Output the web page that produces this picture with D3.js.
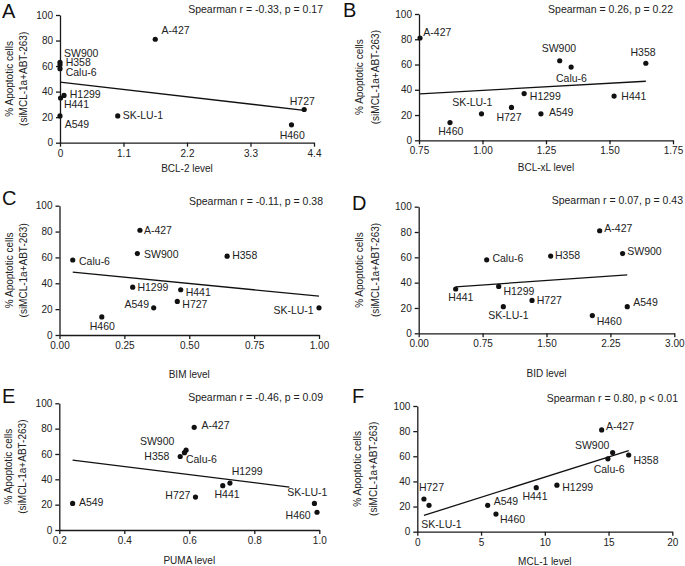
<!DOCTYPE html>
<html>
<head>
<meta charset="utf-8">
<script src="https://cdnjs.cloudflare.com/ajax/libs/d3/7.8.5/d3.min.js"></script>
<style>
  body { margin: 0; background: #fff; }
  svg { display: block; font-family: "Liberation Sans", Arial, sans-serif; }
  .axis path, .axis line { stroke: #1a1a1a; stroke-width: 1.3; }
  .axis text { font-size: 10px; fill: #222; font-family: "Liberation Sans", Arial, sans-serif; }
</style>
</head>
<body>
<div id="chart"></div>
<script>
// cell lines, same order in every array
var cells = ["A-427", "SW900", "H358", "Calu-6", "H1299", "H441", "A549", "SK-LU-1", "H727", "H460"];
var apoptotic = [81, 63, 61, 58, 37, 35, 21, 21, 26, 14];

var bcl2  = [1.65, 0, 0, 0, 0.07, 0.01, 0, 1.0, 4.23, 4.01];
var bclxl = [0.754, 1.304, 1.643, 1.349, 1.164, 1.518, 1.230, 0.996, 1.114, 0.872];
var bim   = [0.310, 0.300, 0.646, 0.051, 0.282, 0.467, 0.363, 1.00, 0.454, 0.163];
var bid   = [2.124, 2.393, 1.549, 0.798, 0.939, 0.434, 2.448, 0.993, 1.330, 2.038];
var puma  = [0.615, 0.590, 0.585, 0.572, 0.725, 0.703, 0.241, 0.985, 0.619, 0.993];
var mcl1  = [14.46, 15.32, 16.58, 14.95, 10.95, 9.33, 5.52, 0.92, 0.52, 6.17];

var letters = ["A", "B", "C", "D", "E", "F"];
var xTitles = ["BCL-2 level", "BCL-xL level", "BIM level", "BID level", "PUMA level", "MCL-1 level"];
var statTexts = [
  "Spearman r = -0.33, p = 0.17",
  "Spearman = 0.26, p = 0.22",
  "Spearman r = -0.11, p = 0.38",
  "Spearman r = 0.07, p = 0.43",
  "Spearman r = -0.46, p = 0.09",
  "Spearman r = 0.80, p < 0.01"
];
var xTickValues = [
  [0, 1.1, 2.2, 3.3, 4.4],
  [0.75, 1.00, 1.25, 1.50, 1.75],
  [0, 0.25, 0.50, 0.75, 1.00],
  [0, 0.75, 1.50, 2.25, 3.00],
  [0.2, 0.4, 0.6, 0.8, 1.0],
  [0, 5, 10, 15, 20]
];
var xTickLabels = [
  ["0", "1.1", "2.2", "3.3", "4.4"],
  ["0.75", "1.00", "1.25", "1.50", "1.75"],
  ["0.00", "0.25", "0.50", "0.75", "1.00"],
  ["0.00", "0.75", "1.50", "2.25", "3.00"],
  ["0.2", "0.4", "0.6", "0.8", "1.0"],
  ["0", "5", "10", "15", "20"]
];
var yTicks = [0, 20, 40, 60, 80, 100];
// x span of the drawn fit line
var fitRanges = [[0, 4.23], [0.754, 1.643], [0.051, 1.0], [0.434, 2.448], [0.241, 0.908], [0.52, 16.58]];

var series = [bcl2, bclxl, bim, bid, puma, mcl1];

// layout, px
var layout = [
  {l: 60,    r: 314,   t: 15,    b: 142.7, statX: 323, statY: 13,    letX: 2,   letY: 18,  titleDy: 29, yl1: -47, yl2: -33},
  {l: 419,   r: 673,   t: 14,    b: 140.3, statX: 673, statY: 13,    letX: 343, letY: 17,  titleDy: 31, yl1: -56, yl2: -40},
  {l: 59.5,  r: 319,   t: 205.7, b: 335,   statX: 323, statY: 204.5, letX: 2,   letY: 205, titleDy: 43, yl1: -47, yl2: -33},
  {l: 418.7, r: 674.3, t: 206.7, b: 333.3, statX: 683, statY: 204.3, letX: 352, letY: 210, titleDy: 44, yl1: -56, yl2: -40},
  {l: 59.3,  r: 319.3, t: 403.3, b: 530,   statX: 323, statY: 401,   letX: 2,   letY: 403, titleDy: 34, yl1: -47, yl2: -33},
  {l: 417.3, r: 672.3, t: 406,   b: 531.7, statX: 678, statY: 401.7, letX: 352, letY: 403, titleDy: 33, yl1: -56, yl2: -40}
];

// label offsets from dot [dx, dy, anchor], in cell order
var labelPos = [
  [[6.3,-5.7,"start"],[4,-5.7,"start"],[5.7,1,"start"],[5.7,7.3,"start"],[5.7,3,"start"],
   [3.3,10,"start"],[4.7,11.7,"start"],[5,3.3,"start"],[10.7,-4.7,"end"],[0.7,14,"middle"]],
  [[3.3,-2,"start"],[-0.8,-9,"middle"],[-2.8,-7.3,"middle"],[0.3,14.7,"middle"],[5.7,6.7,"start"],
   [7.3,3.7,"start"],[8,2.7,"start"],[-9.2,-7.3,"middle"],[-2.5,13.7,"middle"],[0.8,12,"middle"]],
  [[4,3.7,"start"],[6.7,4.7,"start"],[5,3.3,"start"],[6.3,4.7,"start"],[4.7,3.7,"start"],
   [5,6.7,"start"],[-4.7,0,"end"],[-5.3,6,"end"],[5,6.7,"start"],[0.5,12.7,"middle"]],
  [[4.7,1,"start"],[4.7,1,"start"],[4.3,2.7,"start"],[5.7,2.3,"start"],[4.7,8.3,"start"],
   [5.2,12.3,"middle"],[6,-0.7,"start"],[5.2,12.7,"middle"],[4.7,3.3,"start"],[4.3,9.7,"start"]],
  [[7.3,1.7,"start"],[-11.7,-5,"end"],[-15,7.3,"end"],[5.7,6.3,"start"],[1.7,-8,"start"],
   [4.3,12,"middle"],[6.3,2.3,"start"],[13,-7.7,"end"],[-5,2.3,"end"],[-6.3,6.7,"end"]],
  [[4.3,0.3,"start"],[-3.3,-3.3,"end"],[4.7,9,"start"],[1.2,14.3,"middle"],[5.3,6,"start"],
   [-1.3,12.3,"middle"],[6,0,"start"],[-7.7,22.7,"start"],[-5,-8.3,"start"],[4,9.3,"start"]]
];

var svg = d3.select("#chart").append("svg")
  .attr("width", 685)
  .attr("height", 566);

function linFit(xs, ys){
  var mx = d3.mean(xs), my = d3.mean(ys);
  var sxy = 0, sxx = 0;
  for(var i = 0; i < xs.length; i++){
    sxy += (xs[i] - mx) * (ys[i] - my);
    sxx += (xs[i] - mx) * (xs[i] - mx);
  }
  var slope = sxy / sxx;
  return {slope: slope, icpt: my - slope * mx};
}

for(var p = 0; p < 6; p++){
  var L = layout[p];
  var xv = series[p];
  var ticks = xTickValues[p];
  var labs = xTickLabels[p];

  var xScale = d3.scaleLinear()
    .domain([ticks[0], ticks[ticks.length - 1]])
    .range([L.l, L.r]);
  var yScale = d3.scaleLinear()
    .domain([0, 100])
    .range([L.b, L.t]);

  var g = svg.append("g");

  g.append("g")
    .attr("class", "axis")
    .attr("transform", "translate(0," + L.b + ")")
    .call(d3.axisBottom(xScale).tickValues(ticks).tickSize(4).tickSizeOuter(0)
      .tickFormat(function(d, i){ return labs[i]; }));

  g.append("g")
    .attr("class", "axis")
    .attr("transform", "translate(" + L.l + ",0)")
    .call(d3.axisLeft(yScale).tickValues(yTicks).tickSize(4).tickSizeOuter(0));

  // fit line
  var fit = linFit(xv, apoptotic);
  var fr = fitRanges[p];
  g.append("line")
    .attr("x1", xScale(fr[0]))
    .attr("y1", yScale(fit.icpt + fit.slope * fr[0]))
    .attr("x2", xScale(fr[1]))
    .attr("y2", yScale(fit.icpt + fit.slope * fr[1]))
    .attr("stroke", "#111")
    .attr("stroke-width", 1.3);

  g.selectAll("circle.pt")
    .data(cells)
    .enter().append("circle")
    .attr("class", "pt")
    .attr("cx", function(d, i){ return xScale(xv[i]); })
    .attr("cy", function(d, i){ return yScale(apoptotic[i]); })
    .attr("r", 2.6)
    .attr("fill", "#111");

  var lp = labelPos[p];
  g.selectAll("text.lab")
    .data(cells)
    .enter().append("text")
    .attr("class", "lab")
    .attr("x", function(d, i){ return xScale(xv[i]) + lp[i][0]; })
    .attr("y", function(d, i){ return yScale(apoptotic[i]) + lp[i][1]; })
    .attr("text-anchor", function(d, i){ return lp[i][2]; })
    .attr("font-size", "10.5px")
    .attr("fill", "#222")
    .text(function(d){ return d; });

  g.append("text")
    .attr("x", L.statX)
    .attr("y", L.statY)
    .attr("text-anchor", "end")
    .attr("font-size", "10.5px")
    .attr("fill", "#222")
    .text(statTexts[p]);

  g.append("text")
    .attr("x", L.letX)
    .attr("y", L.letY)
    .attr("font-size", "20px")
    .attr("fill", "#111")
    .text(letters[p]);

  g.append("text")
    .attr("x", (L.l + L.r) / 2)
    .attr("y", L.b + L.titleDy)
    .attr("text-anchor", "middle")
    .attr("font-size", "10px")
    .attr("fill", "#222")
    .text(xTitles[p]);

  var ym = (L.t + L.b) / 2;
  g.append("text")
    .attr("transform", "translate(" + (L.l + L.yl1) + "," + ym + ") rotate(-90)")
    .attr("text-anchor", "middle")
    .attr("font-size", "10px")
    .attr("fill", "#222")
    .text("% Apoptotic cells");
  g.append("text")
    .attr("transform", "translate(" + (L.l + L.yl2) + "," + ym + ") rotate(-90)")
    .attr("text-anchor", "middle")
    .attr("font-size", "10px")
    .attr("fill", "#222")
    .text("(siMCL-1a+ABT-263)");
}
</script>
</body>
</html>
